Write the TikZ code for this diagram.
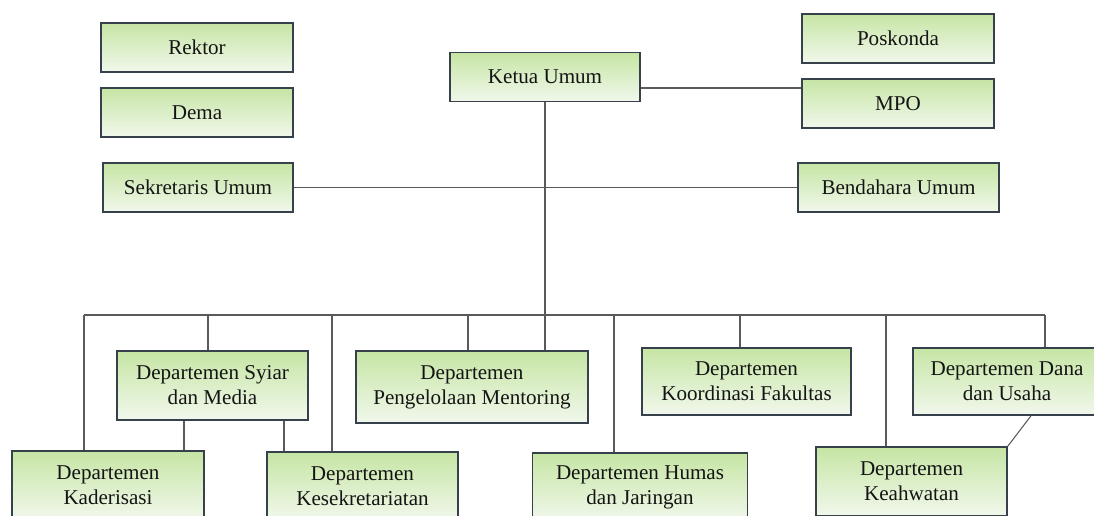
\documentclass[tikz,border=0pt]{standalone}
\usepackage{fontspec}
\setmainfont{Liberation Serif}

\definecolor{boxtop}{HTML}{C6E5A4}
\definecolor{boxbot}{HTML}{F1F8EC}
\definecolor{boxline}{HTML}{36414C}
\definecolor{linkgray}{HTML}{5A5A5A}

\begin{document}
\begin{tikzpicture}[x=0.02cm, y=-0.02cm,
    unit/.style={draw=boxline, line width=0.9pt, top color=boxtop, bottom color=boxbot,
        align=center, inner sep=0pt, text=black!92, font=\fontsize{12}{14.2}\selectfont},
    link/.style={draw=linkgray, line width=0.6pt}]
    \useasboundingbox (0,0) rectangle (1094,516);

    % Side units (no lines)
    \node[unit, minimum width=3.84cm, minimum height=0.98cm] (rektor) at (197,47.5) {Rektor};
    \node[unit, minimum width=3.84cm, minimum height=0.98cm] (dema) at (197,112.5) {Dema};
    \node[unit, minimum width=3.84cm, minimum height=0.98cm] (poskonda) at (898,38.5) {Poskonda};

    % Top leadership
    \node[unit, minimum width=3.8cm, minimum height=0.98cm] (ketua) at (545,77) {Ketua Umum};
    \node[unit, minimum width=3.84cm, minimum height=0.98cm] (mpo) at (898,103.5) {MPO};
    \node[unit, minimum width=3.8cm, minimum height=0.98cm] (sekum) at (198,187.5) {Sekretaris Umum};
    \node[unit, minimum width=4.02cm, minimum height=0.98cm] (bendum) at (898.5,187.5) {Bendahara Umum};

    % Departments, upper row
    \node[unit, minimum width=3.82cm, minimum height=1.38cm] (syiar) at (212.5,385.5) {Departemen Syiar\\dan Media};
    \node[unit, minimum width=4.64cm, minimum height=1.44cm] (mentor) at (472,387) {Departemen\\Pengelolaan Mentoring};
    \node[unit, minimum width=4.18cm, minimum height=1.34cm] (koord) at (746.5,381.5) {Departemen\\Koordinasi Fakultas};
    \node[unit, minimum width=3.76cm, minimum height=1.34cm] (dana) at (1007,381.5) {Departemen Dana\\dan Usaha};

    % Departments, lower row
    \node[unit, minimum width=3.84cm, minimum height=1.38cm] (kader) at (108,485.5) {Departemen\\Kaderisasi};
    \node[unit, minimum width=3.82cm, minimum height=1.38cm] (sekre) at (362.5,486.5) {Departemen\\Kesekretariatan};
    \node[unit, minimum width=4.3cm, minimum height=1.38cm] (humas) at (640,487.5) {Departemen Humas\\dan Jaringan};
    \node[unit, minimum width=3.82cm, minimum height=1.38cm] (keahw) at (911.5,481.5) {Departemen\\Keahwatan};

    % Ketua Umum to MPO
    \draw[link] ([yshift=-0.22cm]ketua.east) coordinate (k) -- (k -| mpo.west);

    % Sekretaris to Bendahara
    \draw[link] (sekum.east) -- (bendum.west);

    % Main vertical line
    \draw[link] (ketua.south) -- (ketua.south |- mentor.north);

    % Department bus
    \coordinate (busL) at (84,315);
    \coordinate (busR) at (1045,315);
    \draw[link] (busL) -- (busR);

    \foreach \x/\n in {84/kader, 208/syiar, 332/sekre, 468/mentor, 614/humas, 740/koord, 886/keahw, 1045/dana} {
        \draw[link] (\x,315) coordinate (drop) -- (drop |- \n.north);
    }

    % Syiar dan Media down to lower row
    \path (syiar.south) ++(-28.5,0) coordinate (s1) ++(100,0) coordinate (s2);
    \draw[link] (s1) -- (s1 |- kader.north);
    \draw[link] (s2) -- (s2 |- sekre.north);

    % Dana dan Usaha to Keahwatan
    \path (dana.south) ++(24,0) coordinate (d1);
    \draw[link] (d1) -- (keahw.north east);
\end{tikzpicture}
\end{document}
